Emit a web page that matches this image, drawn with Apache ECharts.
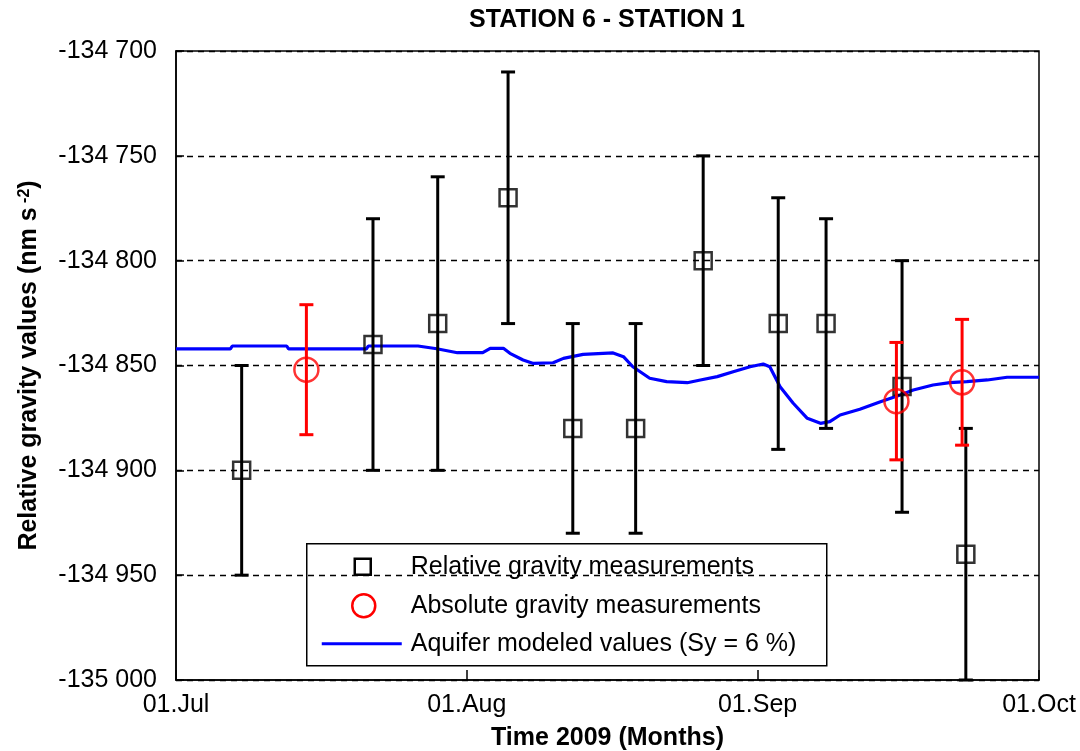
<!DOCTYPE html>
<html><head><meta charset="utf-8">
<script src="https://cdn.jsdelivr.net/npm/echarts@6/dist/echarts.min.js"></script>
<style>html,body{margin:0;padding:0;background:#fff}#c{width:1080px;height:751px}</style>
</head><body><div id="c"></div>
<script>
// x values are days since 01 Jul 2009
const monthTickDays = [0, 31, 62, 92];
const monthTickLabels = ['01.Jul', '01.Aug', '01.Sep', '01.Oct'];

const relDays   = [7.0, 21.0, 27.9, 35.4, 42.3, 49.0, 56.2, 64.2, 69.3, 77.4, 84.2];
const relValues = [-134900, -134840, -134830, -134770, -134880, -134880, -134800, -134830, -134830, -134860, -134940];
const relErrors = [50, 60, 70, 60, 50, 50, 50, 60, 50, 60, 60];

const absDays   = [13.9, 76.8, 83.8];
const absValues = [-134852, -134867, -134858];
const absErrors = [31, 28, 30];

const modelDays = [0, 5.8, 6.0, 11.8, 12.0, 20.3, 20.5, 25.8, 27.8, 30.0, 32.7, 33.5, 34.9, 35.6, 37.0, 38.1,
  40.2, 41.3, 43.4, 46.6, 47.7, 48.7, 50.5, 52.3, 54.5, 55.9, 57.7, 59.4, 61.2, 62.6, 63.3, 64.4, 65.8,
  67.3, 68.7, 69.7, 70.8, 72.9, 75.1, 77.2, 78.6, 80.7, 82.5, 84.3, 86.5, 88.6, 92.0];
const modelValues = [-134842.1, -134842.1, -134840.7, -134840.7, -134842.1, -134842.1, -134840.7, -134840.7,
  -134842.0, -134843.9, -134843.9, -134841.8, -134841.8, -134844.2, -134847.4, -134849.0,
  -134848.7, -134846.6, -134844.7, -134844.0, -134845.8, -134850.6, -134856.1, -134857.7, -134858.2,
  -134856.9, -134855.3, -134853.0, -134850.6, -134849.3, -134850.6, -134860.1, -134868.0,
  -134875.2, -134877.6, -134876.8, -134873.6, -134870.9, -134867.3, -134864.1, -134861.7, -134859.3,
  -134858.2, -134857.7, -134856.9, -134855.6, -134855.6];

const legendNames = ['Relative gravity measurements', 'Absolute gravity measurements', 'Aquifer modeled values (Sy = 6 %)'];

const FONT = "'Liberation Sans', Arial, sans-serif";

function errorBar(color, capHalf, lw) {
  return function (params, api) {
    const x = api.value(0);
    const pLo = api.coord([x, api.value(1)]);
    const pHi = api.coord([x, api.value(2)]);
    const st = { stroke: color, lineWidth: lw };
    return { type: 'group', children: [
      { type: 'line', shape: { x1: pHi[0], y1: pHi[1], x2: pLo[0], y2: pLo[1] }, style: st },
      { type: 'line', shape: { x1: pHi[0] - capHalf, y1: pHi[1], x2: pHi[0] + capHalf, y2: pHi[1] }, style: st },
      { type: 'line', shape: { x1: pLo[0] - capHalf, y1: pLo[1], x2: pLo[0] + capHalf, y2: pLo[1] }, style: st }
    ]};
  };
}

function fmtY(v) {
  const s = Math.abs(v).toString();
  const out = s.length > 3 ? s.slice(0, s.length - 3) + ' ' + s.slice(-3) : s;
  return (v < 0 ? '-' : '') + out;
}

const chart = echarts.init(document.getElementById('c'), null, { renderer: 'canvas' });
const lx = 306, ly = 543;
chart.setOption({
  animation: false,
  backgroundColor: '#fff',
  title: {
    text: 'STATION 6 - STATION 1',
    left: 602, top: 3, textAlign: 'center',
    textStyle: { fontFamily: FONT, fontWeight: 'bold', fontSize: 25, color: '#000' }
  },
  grid: { left: 176, right: 41, top: 51, bottom: 71, outerBoundsMode: 'none', containLabel: false,
    show: true, borderColor: '#000', borderWidth: 1.5, backgroundColor: '#fff' },
  xAxis: {
    type: 'value', min: 0, max: 92,
    name: 'Time 2009 (Months)', nameLocation: 'middle', nameGap: 46,
    nameTextStyle: { fontFamily: FONT, fontWeight: 'bold', fontSize: 25, color: '#000' },
    axisLine: { lineStyle: { color: '#000', width: 1.5 } },
    axisTick: { inside: true, length: 10, lineStyle: { color: '#000', width: 1.5 }, customValues: monthTickDays },
    axisLabel: { customValues: monthTickDays, margin: 13, fontFamily: FONT, fontSize: 25, color: '#000',
      formatter: v => monthTickLabels[monthTickDays.indexOf(v)] },
    splitLine: { show: false }
  },
  yAxis: {
    type: 'value', min: -135000, max: -134700, interval: 50,
    name: '{b|Relative gravity values (nm s}{s| -2}{b|)}', nameLocation: 'middle', nameGap: 134, nameRotate: 90,
    nameTextStyle: { rich: {
      b: { fontFamily: FONT, fontWeight: 'bold', fontSize: 25, color: '#000' },
      s: { fontFamily: FONT, fontWeight: 'bold', fontSize: 16, color: '#000', verticalAlign: 'top', lineHeight: 12 }
    } },
    axisLine: { lineStyle: { color: '#000', width: 1.5 } },
    axisTick: { inside: true, length: 8, lineStyle: { color: '#000', width: 1.5 } },
    axisLabel: { margin: 19, fontFamily: FONT, fontSize: 25, color: '#000', formatter: fmtY },
    splitLine: { show: true, lineStyle: { color: '#000', width: 1.3, type: [6, 5] } }
  },
  series: [
    { name: legendNames[2], type: 'line', z: 2, symbol: 'none', clip: true,
      lineStyle: { color: '#0000ff', width: 3.2 },
      data: modelDays.map((d, i) => [d, modelValues[i]]) },
    { type: 'custom', z: 3, renderItem: errorBar('#000', 7, 3), encode: { x: 0, y: [1, 2] },
      data: relDays.map((d, i) => [d, relValues[i] - relErrors[i], relValues[i] + relErrors[i]]) },
    { name: legendNames[0], type: 'scatter', z: 4, symbol: 'rect', symbolSize: 17,
      itemStyle: { color: 'rgba(255,255,255,0)', borderColor: '#000', borderWidth: 2.5 },
      data: relDays.map((d, i) => [d, relValues[i]]) },
    { type: 'custom', z: 5, renderItem: errorBar('#ff0000', 7, 3), encode: { x: 0, y: [1, 2] },
      data: absDays.map((d, i) => [d, absValues[i] - absErrors[i], absValues[i] + absErrors[i]]) },
    { name: legendNames[1], type: 'scatter', z: 6, symbol: 'circle', symbolSize: 24,
      itemStyle: { color: 'rgba(255,255,255,0)', borderColor: '#ff0000', borderWidth: 2.5 },
      data: absDays.map((d, i) => [d, absValues[i]]) }
  ],
  graphic: [
    { type: 'group', left: lx, top: ly, z: 100, children: [
      { type: 'rect', shape: { x: 0, y: 0, width: 520, height: 122 }, style: { fill: '#fff', stroke: '#000', lineWidth: 1.5 } },
      { type: 'rect', shape: { x: 48, y: 15, width: 16, height: 16 }, style: { fill: 'none', stroke: '#000', lineWidth: 2.5 } },
      { type: 'circle', shape: { cx: 57, cy: 62, r: 11.5 }, style: { fill: 'none', stroke: '#ff0000', lineWidth: 2.5 } },
      { type: 'line', shape: { x1: 15, y1: 100, x2: 95, y2: 100 }, style: { stroke: '#0000ff', lineWidth: 3 } },
      { type: 'text', x: 104, y: 23, style: { text: legendNames[0], font: '25px ' + FONT, fill: '#000', verticalAlign: 'middle' } },
      { type: 'text', x: 104, y: 62, style: { text: legendNames[1], font: '25px ' + FONT, fill: '#000', verticalAlign: 'middle' } },
      { type: 'text', x: 104, y: 100, style: { text: legendNames[2], font: '25px ' + FONT, fill: '#000', verticalAlign: 'middle' } }
    ]}
  ]
});
</script></body></html>
